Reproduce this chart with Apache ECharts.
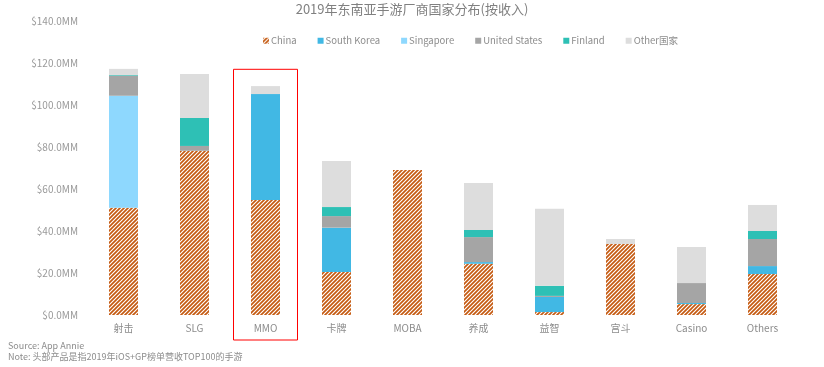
<!DOCTYPE html>
<html><head><meta charset="utf-8">
<script src="https://cdn.jsdelivr.net/npm/echarts@6/dist/echarts.min.js"></script>
<style>html,body{margin:0;padding:0;background:#fff}#c{width:824px;height:367px}</style>
</head><body><div id="c"></div>
<script>
const categories = ['射击','SLG','MMO','卡牌','MOBA','养成','益智','宫斗','Casino','Others'];
const china      = [51.1, 78.2, 54.8, 20.5, 69.0, 24.4, 1.4, 33.8, 5.2, 19.5];
const southKorea = [0, 0, 50.4, 21.1, 0, 0.8, 7.2, 0, 0.5, 3.8];
const singapore  = [53.3, 0, 0, 0, 0, 0, 0, 0, 0, 0];
const us         = [9.6, 2.3, 0, 5.5, 0, 11.9, 0.5, 0, 9.5, 12.9];
const finland    = [0.3, 13.3, 0, 4.3, 0, 3.4, 4.8, 0, 0, 3.8];
const other      = [2.9, 21.0, 3.8, 21.9, 0, 22.4, 36.7, 2.4, 17.2, 12.4];
const yTicks = [0, 20, 40, 60, 80, 100, 120, 140];
const highlight = 'MMO';

function stripe() {
  const c = document.createElement('canvas');
  c.width = 4; c.height = 4;
  const g = c.getContext('2d');
  g.fillStyle = '#ffffff'; g.fillRect(0,0,4,4);
  g.strokeStyle = '#C55A11'; g.lineWidth = 1.7;
  g.beginPath();
  g.moveTo(-1,5); g.lineTo(5,-1);
  g.moveTo(-3,3); g.lineTo(3,-3);
  g.moveTo(1,7); g.lineTo(7,1);
  g.stroke();
  return c;
}
const pat = {image: stripe(), repeat: 'repeat'};

const chart = echarts.init(document.getElementById('c'));
const font = 'Microsoft YaHei, "Noto Sans CJK SC", "Open Sans", sans-serif';
function s(name, data, color) {
  return {name, type:'bar', stack:'a', data, barWidth:29, itemStyle:{color}, emphasis:{disabled:true}};
}
chart.setOption({
  animation:false,
  textStyle:{fontFamily:font},
  title:{text:'2019年东南亚手游厂商国家分布(按收入)', left:'center', top:-2,
    textStyle:{fontSize:13, fontWeight:'normal', color:'#808080', fontFamily:font}},
  legend:{top:31, left:258, itemWidth:6, itemHeight:6, itemGap:21, icon:'rect',
    textStyle:{fontSize:9.5, color:'#8c8c8c', padding:[0,0,0,-3]},
    data:['China','South Korea','Singapore','United States','Finland','Other国家']},
  grid:{left:88, right:26, top:21, bottom:52},
  xAxis:{type:'category', data:categories, axisLine:{show:false}, axisTick:{show:false},
    axisLabel:{color:'#8c8c8c', fontSize:10, margin:8}},
  yAxis:{type:'value', min:0, max:140, interval:20, splitLine:{show:false},
    axisLine:{show:false}, axisTick:{show:false},
    axisLabel:{color:'#999999', fontSize:10, margin:10, formatter:v=>'$'+v.toFixed(1)+'MM'}},
  series:[
    s('China', china, pat),
    s('South Korea', southKorea, '#41B8E4'),
    s('Singapore', singapore, '#8ED8FE'),
    s('United States', us, '#A5A5A5'),
    s('Finland', finland, '#2EC0B5'),
    s('Other国家', other, '#DDDDDD')
  ]
});
// highlight box around the MMO category
const cx = chart.convertToPixel({xAxisIndex:0}, highlight);
const ytop = chart.convertToPixel({yAxisIndex:0}, 117);
const ybase = chart.convertToPixel({yAxisIndex:0}, 0);
chart.setOption({graphic:[
  {type:'rect', shape:{x:cx-32, y:ytop, width:64, height:ybase-ytop+25}, style:{fill:'none', stroke:'#FF0000', lineWidth:1}},
  {type:'text', left:8, top:341, style:{text:'Source: App Annie', fontSize:9, fill:'#8c8c8c', fontFamily:font}},
  {type:'text', left:8, top:352, style:{text:'Note: 头部产品是指2019年iOS+GP榜单营收TOP100的手游', fontSize:9, fill:'#8c8c8c', fontFamily:font}}
]});
</script></body></html>
